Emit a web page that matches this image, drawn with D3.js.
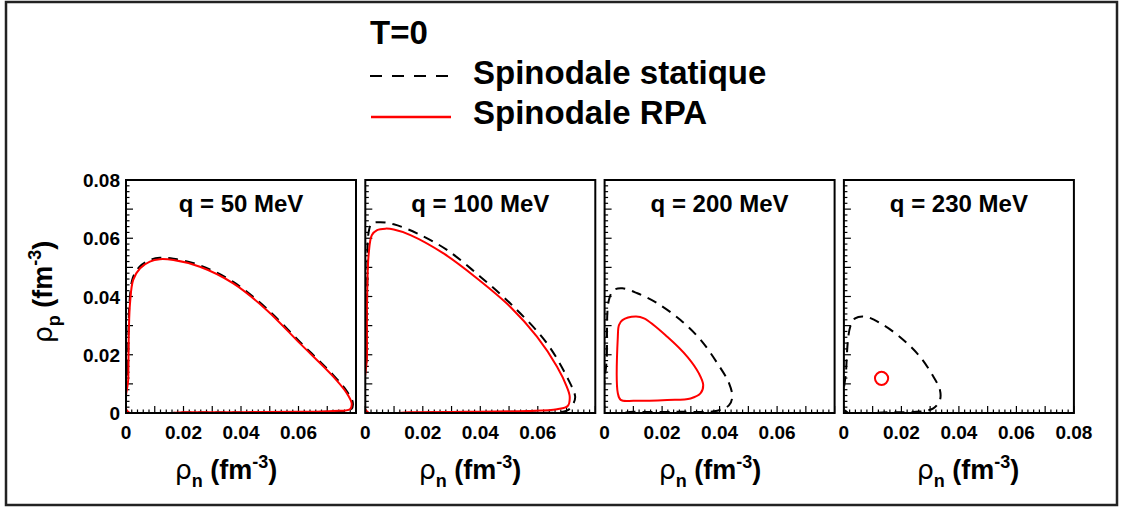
<!DOCTYPE html>
<html><head><meta charset="utf-8">
<script src="https://cdn.jsdelivr.net/npm/d3@7"></script>
<style>
body{margin:0;background:#fff}
svg{display:block}
text{font-family:"Liberation Sans",Arial,Helvetica,sans-serif;}
</style>
</head><body>
<svg id="c" width="1121" height="507"></svg>
<script>
// ---- data ----
const qLabels = ["q = 50 MeV", "q = 100 MeV", "q = 200 MeV", "q = 230 MeV"];
const xTickLabels = [0, 0.02, 0.04, 0.06, 0.08];
const yTickLabels = [0, 0.02, 0.04, 0.06, 0.08];
const legendTitle = "T=0";
const legendNames = ["Spinodale statique", "Spinodale RPA"];

const staticQ50 = [[0.0005,0.0004],[0.0007,0.015],[0.0009,0.03],[0.0013,0.039],[0.0024,0.0465],[0.0048,0.0503],[0.0082,0.0525],[0.0118,0.0533],[0.0165,0.053],[0.0257,0.0507],[0.0373,0.045],[0.0489,0.0359],[0.0605,0.0244],[0.0721,0.013],[0.077,0.0072],[0.0789,0.0035],[0.0783,0.0012],[0.0721,0.0005],[0.0605,0.0003],[0.04,0.0002],[0.02,0.0002]];
const rpaQ50 = [[0.0006,0.0005],[0.0008,0.012],[0.001,0.0285],[0.0014,0.0377],[0.0025,0.0457],[0.0049,0.0497],[0.0083,0.052],[0.0118,0.0528],[0.0165,0.0525],[0.0257,0.0502],[0.0373,0.0445],[0.0489,0.0354],[0.0605,0.0239],[0.0721,0.0125],[0.0768,0.0068],[0.0785,0.0033],[0.0779,0.0013],[0.0721,0.0007],[0.0605,0.0004],[0.04,0.0003],[0.02,0.0003]];

const staticQ100 = [[0.0005,0.0004],[0.0005,0.02],[0.0007,0.045],[0.0012,0.0623],[0.0023,0.0651],[0.0052,0.0655],[0.0099,0.0648],[0.018,0.0617],[0.0284,0.056],[0.04,0.0468],[0.0516,0.0365],[0.0632,0.0239],[0.0707,0.0113],[0.073,0.0056],[0.0724,0.0033],[0.0701,0.0008],[0.05,0.0004],[0.025,0.0003]];
const rpaQ100 = [[0.0006,0.0005],[0.0006,0.02],[0.0006,0.0377],[0.0012,0.0548],[0.0023,0.0611],[0.0041,0.0628],[0.007,0.0633],[0.0099,0.063],[0.0157,0.0611],[0.0272,0.0548],[0.0389,0.0462],[0.0504,0.0365],[0.0597,0.0262],[0.0667,0.0159],[0.0701,0.009],[0.0711,0.0056],[0.0704,0.0024],[0.0667,0.0013],[0.0563,0.0007],[0.035,0.0004],[0.015,0.0003]];

const staticQ200 = [[0.0008,0.0005],[0.0008,0.02],[0.0015,0.0388],[0.0032,0.0422],[0.0062,0.0428],[0.0114,0.0411],[0.0183,0.0377],[0.0264,0.0319],[0.0334,0.0251],[0.0392,0.0171],[0.0433,0.0102],[0.0444,0.0056],[0.0433,0.0027],[0.0392,0.0008],[0.025,0.0004],[0.01,0.0004]];
const rpaQ200 = [[0.0062,0.0319],[0.0108,0.0331],[0.0137,0.0325],[0.0218,0.0262],[0.0288,0.0193],[0.0328,0.0136],[0.0343,0.0096],[0.0334,0.0068],[0.0299,0.005],[0.0218,0.0045],[0.0102,0.0042],[0.0056,0.0045],[0.0046,0.0068],[0.0046,0.0262],[0.005,0.0302]];

const staticQ230 = [[0.0008,0.0005],[0.0008,0.015],[0.0022,0.0296],[0.0039,0.0325],[0.0074,0.0331],[0.0137,0.0302],[0.0207,0.0251],[0.0265,0.0193],[0.0311,0.0125],[0.0334,0.0079],[0.0334,0.0045],[0.0311,0.0016],[0.0265,0.0005],[0.015,0.0003]];
const rpaQ230 = [[0.0154,0.0119],[0.0147,0.0135],[0.0131,0.0142],[0.0115,0.0135],[0.0108,0.0119],[0.0115,0.0103],[0.0131,0.0096],[0.0147,0.0103]];

const staticSeries = [staticQ50, staticQ100, staticQ200, staticQ230];
const rpaSeries = [rpaQ50, rpaQ100, rpaQ200, rpaQ230];

// ---- layout ----
const svg = d3.select("#c");
svg.append("rect").attr("x", 6).attr("y", 2).attr("width", 1111).attr("height", 503)
  .attr("fill", "none").attr("stroke", "#222").attr("stroke-width", 2.5);

const panelW = 230, panelStep = 239.3, panelX0 = 126;
const plotTop = 180, plotBottom = 413;
const y = d3.scaleLinear().domain([0, 0.08]).range([plotBottom, plotTop]);
const xTitleCenters = [226, 470, 710, 968];

const fmt = d => d === 0 ? "0" : d3.format(".2f")(d);

qLabels.forEach((q, i) => {
  const left = panelX0 + i * panelStep;
  const x = d3.scaleLinear().domain([0, 0.08]).range([left, left + panelW]);
  const g = svg.append("g");
  const clipId = "clip" + i;
  svg.append("clipPath").attr("id", clipId).append("rect")
    .attr("x", left).attr("y", plotTop).attr("width", panelW).attr("height", plotBottom - plotTop);

  // minor/major ticks (inside)
  const minor = d3.range(0, 0.0801, 0.002);
  minor.forEach(v => {
    const major = Math.abs(Math.round(v / 0.01) * 0.01 - v) < 1e-6;
    const len = major ? 7 : 3.5;
    g.append("line").attr("x1", x(v)).attr("x2", x(v)).attr("y1", plotBottom).attr("y2", plotBottom - len)
      .attr("stroke", "#000").attr("stroke-width", 1.2);
    g.append("line").attr("y1", y(v)).attr("y2", y(v)).attr("x1", left).attr("x2", left + len)
      .attr("stroke", "#000").attr("stroke-width", 1.2);
  });

  const line = d3.line().x(d => x(d[0])).y(d => y(d[1])).curve(d3.curveCatmullRomClosed.alpha(0.5));
  const cg = g.append("g").attr("clip-path", `url(#${clipId})`);
  cg.append("path").attr("d", line(staticSeries[i])).attr("fill", "none")
    .attr("stroke", "#000").attr("stroke-width", 2).attr("stroke-dasharray", "10,7");
  cg.append("path").attr("d", line(rpaSeries[i])).attr("fill", "none")
    .attr("stroke", "#ff0000").attr("stroke-width", 2);

  // frame
  g.append("rect").attr("x", left).attr("y", plotTop).attr("width", panelW).attr("height", plotBottom - plotTop)
    .attr("fill", "none").attr("stroke", "#000").attr("stroke-width", 2);

  // x tick labels
  const xl = i === qLabels.length - 1 ? xTickLabels : xTickLabels.slice(0, 4);
  xl.forEach(v => {
    g.append("text").attr("x", x(v)).attr("y", 439).attr("text-anchor", "middle")
      .attr("font-size", 19).attr("font-weight", "bold").text(fmt(v));
  });

  // panel title
  g.append("text").attr("x", left + panelW / 2).attr("y", 212).attr("text-anchor", "middle")
    .attr("font-size", 24).attr("font-weight", "bold").text(q);

  // x axis title
  const t = g.append("text").attr("x", xTitleCenters[i]).attr("y", 479).attr("text-anchor", "middle")
    .attr("font-size", 27).attr("font-weight", "bold");
  t.append("tspan").attr("font-weight", "normal").attr("font-family", "DejaVu Sans").text("ρ");
  t.append("tspan").attr("font-size", 18).attr("dy", 8).text("n");
  t.append("tspan").attr("dy", -8).text(" (fm");
  t.append("tspan").attr("font-size", 18).attr("dy", -11).text("-3");
  t.append("tspan").attr("dy", 11).text(")");
});

// y tick labels (first panel only)
yTickLabels.forEach(v => {
  svg.append("text").attr("x", 120).attr("y", y(v) + 7).attr("text-anchor", "end")
    .attr("font-size", 19).attr("font-weight", "bold").text(fmt(v));
});

// y axis title
const yt = svg.append("text").attr("transform", "translate(52,292) rotate(-90)")
  .attr("text-anchor", "middle").attr("font-size", 27).attr("font-weight", "bold");
yt.append("tspan").attr("font-weight", "normal").attr("font-family", "DejaVu Sans").text("ρ");
yt.append("tspan").attr("font-size", 18).attr("dy", 8).text("p");
yt.append("tspan").attr("dy", -8).text(" (fm");
yt.append("tspan").attr("font-size", 18).attr("dy", -11).text("-3");
yt.append("tspan").attr("dy", 11).text(")");

// legend
svg.append("text").attr("x", 370).attr("y", 44).attr("font-size", 33).attr("font-weight", "bold").text(legendTitle);
svg.append("line").attr("x1", 370).attr("x2", 450).attr("y1", 76).attr("y2", 76)
  .attr("stroke", "#000").attr("stroke-width", 2.2).attr("stroke-dasharray", "12,10");
svg.append("line").attr("x1", 371).attr("x2", 451).attr("y1", 117).attr("y2", 117)
  .attr("stroke", "#ff0000").attr("stroke-width", 2.5);
svg.append("text").attr("x", 473).attr("y", 84).attr("font-size", 33).attr("font-weight", "bold").text(legendNames[0]);
svg.append("text").attr("x", 473).attr("y", 124).attr("font-size", 33).attr("font-weight", "bold").text(legendNames[1]);
</script>
</body></html>
